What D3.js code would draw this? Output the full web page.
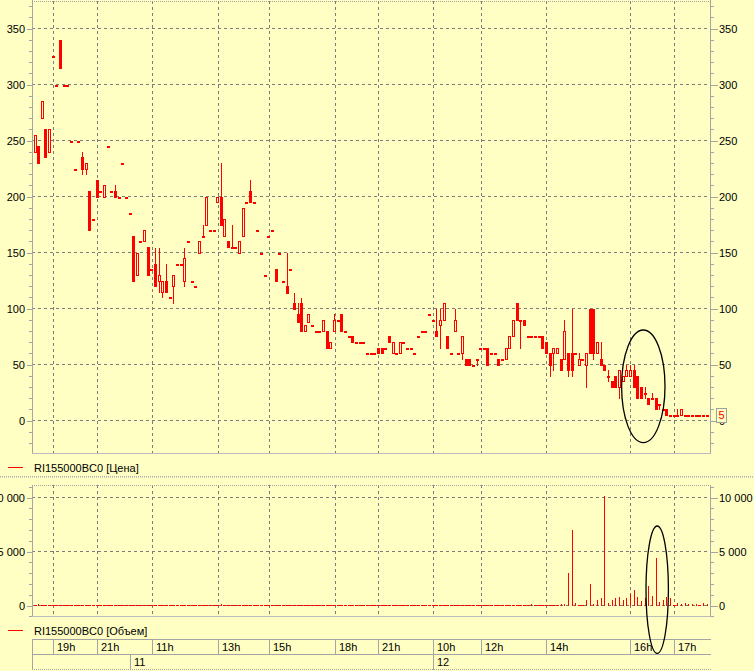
<!DOCTYPE html>
<html><head><meta charset="utf-8">
<script src="https://cdn.jsdelivr.net/npm/d3@7/dist/d3.min.js"></script>
<style>
html,body{margin:0;padding:0;background:#FFFFC4;overflow:hidden;}
svg{display:block;font-family:"Liberation Sans",Arial,sans-serif;font-size:11px;}
</style></head><body>
<svg id="c" width="754" height="671"></svg>
<script>
// ---- data (5-minute candles, RI155000BC0) ----
const opens = [240,245,270,260,240,325,300,340,300,300,250,225,250,235,225,205,180,215,205,200,245,205,205,200,230,200,185,165,130,160,160,155,135,140,125,115,125,110,120,140,140,125,160,125,120,150,165,175,170,170,195,200,165,160,155,155,150,165,195,205,195,170,150,130,165,170,135,150,125,120,135,105,95,105,80,88,85,80,80,80,80,65,80,90,95,80,75,75,70,70,70,60,60,60,65,65,65,75,60,60,60,70,65,65,60,75,80,80,95,90,80,85,90,75,60,80,60,60,55,55,50,55,65,65,65,60,60,55,55,55,65,75,105,90,90,75,75,75,75,75,70,60,60,60,55,55,60,60,60,50,55,50,100,100,60,55,50,40,35,40,30,35,40,40,45,40,30,25,20,20,20,15,10,10,5,5,5,5,5,5,5,5,5,5,5];
const highs = [255,245,285,260,260,325,300,340,300,300,250,225,250,240,230,205,180,215,205,210,245,205,210,200,230,200,185,165,150,160,170,155,135,154,154,125,140,110,130,140,140,154,160,125,120,160,175,200,170,170,200,230,180,160,175,155,160,190,195,215,195,170,150,130,165,170,135,150,125,150,135,114,105,109,85,95,85,80,80,90,80,70,95,90,95,80,75,75,70,70,70,60,60,60,65,65,65,75,70,60,70,70,65,65,60,75,80,80,95,90,100,100,105,75,60,100,60,75,55,55,50,55,65,65,65,60,60,55,55,65,75,90,105,90,90,75,75,75,75,75,70,60,65,65,55,90,60,100,60,60,55,60,100,100,70,70,50,45,35,40,45,40,50,50,50,40,30,30,20,25,20,15,10,10,5,5,10,10,5,5,5,5,5,5,5];
const lows = [240,230,270,235,240,325,300,315,300,300,250,225,250,220,220,170,180,200,205,200,245,205,200,200,230,200,185,125,130,160,160,130,135,120,115,110,115,110,105,140,140,120,160,125,120,150,165,175,170,170,195,175,165,155,155,155,150,165,195,195,195,170,150,130,165,170,125,150,125,114,135,100,88,80,80,88,85,80,80,80,65,65,80,90,80,80,75,70,70,70,70,60,60,60,60,60,65,70,60,60,60,70,65,65,60,75,80,80,95,90,75,65,90,65,60,80,60,55,50,50,50,50,65,65,50,60,60,50,55,55,65,75,90,65,85,75,75,75,75,65,60,40,45,60,45,55,40,40,60,50,55,30,60,55,60,50,45,35,30,30,20,35,40,40,30,20,20,20,15,20,10,10,10,5,5,5,5,5,5,5,5,5,5,5,5];
const closes = [255,230,285,235,260,325,300,315,300,300,250,225,250,225,230,170,180,200,205,210,245,205,200,200,230,200,185,125,150,160,170,130,135,120,130,125,115,110,130,140,140,145,160,125,120,160,165,200,170,170,200,175,180,155,155,155,160,190,195,195,195,170,150,130,165,170,125,150,125,114,135,100,88,80,85,95,85,80,80,90,65,70,90,90,80,80,75,70,70,70,70,60,60,60,60,60,65,70,70,60,70,70,65,65,60,75,80,80,95,90,75,90,105,65,60,90,60,75,50,50,50,55,65,65,50,60,60,50,55,65,75,90,90,90,85,75,75,75,75,65,60,50,65,65,45,80,45,45,60,55,55,60,60,60,70,50,45,40,30,30,45,40,45,45,30,20,20,25,15,20,10,15,10,5,5,5,5,10,5,5,5,5,5,5,5];
const volumes = [60,150,40,50,40,10,10,60,10,10,10,10,10,40,30,60,10,40,10,30,10,10,30,10,10,10,10,60,40,10,30,50,10,50,40,40,40,10,40,10,10,40,10,10,10,30,20,50,10,10,30,100,40,20,30,10,30,50,10,40,10,10,10,10,10,10,30,10,10,40,10,30,30,50,20,20,10,10,10,30,40,20,30,10,30,10,10,20,10,10,10,10,10,10,30,30,10,20,30,10,30,10,10,10,10,10,10,10,10,10,60,80,60,40,10,50,10,40,30,30,10,20,10,10,40,10,10,30,10,40,40,60,60,50,40,20,120,20,20,60,60,80,60,50,100,100,3000,7000,200,80,80,500,2000,150,500,650,10100,200,500,650,800,500,650,1100,1420,800,450,650,1800,850,4440,350,500,750,650,30,200,100,250,150,150,100,30,250,120];
const priceTicks = [0,50,100,150,200,250,300,350];
const volumeTicks = [0,5000,10000];
const hourLabels = ["19h","21h","11h","13h","15h","18h","21h","10h","12h","14h","16h","17h"];
const hourIndex = [5,17,32,50,64,82,94,109,122,140,163,175];
const dayLabels = ["11","12"];
const dayIndex = [26,109];
const lastPrice = 5;
const seriesName = "RI155000BC0";

// ---- drawing ----
const N = opens.length;
const RED = "#FF0000", BG = "#FFFFC4", GRID = "#7C7C7C", AX = "#A4A4A4";
const svg = d3.select("#c");
svg.append("rect").attr("width",754).attr("height",671).attr("fill",BG);

const L = 32, R = 710;
const x = d3.scaleBand().domain(d3.range(N)).range([33.2, 709]).padding(0);
const cx = i => x(i) + x.bandwidth()/2;
const gx = i => Math.round(cx(i)) + 0.5;
const y = d3.scaleLinear().domain([0,350]).range([420.5, 28.5]);
const yv = d3.scaleLinear().domain([0,10000]).range([605.5, 497.5]);

const P = {top:1, bottom:453.5};
const V = {top:485, bottom:616.5};

function line(g, x1,y1,x2,y2,stroke,dash,w){
  return g.append("line").attr("x1",x1).attr("y1",y1).attr("x2",x2).attr("y2",y2)
   .attr("stroke",stroke).attr("stroke-width",w||1).attr("stroke-dasharray",dash||null)
   .attr("shape-rendering","crispEdges");
}

// price panel grid
const gP = svg.append("g");
priceTicks.forEach(t => line(gP, L, y(t), R, y(t), GRID, "3,3"));
hourIndex.forEach(k => line(gP, gx(k), P.top, gx(k), P.bottom, GRID, "3,3"));
line(gP, L, 1.5, R, 1.5, AX, "1,1");
line(gP, L+0.5, 0, L+0.5, P.bottom, AX);
line(gP, R+0.5, 0, R+0.5, P.bottom, AX);
line(gP, L, P.bottom, R+1, P.bottom, "#BCBCBC", null, 1);

// price axes ticks (minor every 10)
const minorP = d3.range(-20, 371, 10);
minorP.forEach(t => {
  const major = t % 50 === 0;
  line(gP, major ? L-5 : L-3, Math.round(y(t))+0.5, L, Math.round(y(t))+0.5, AX);
  line(gP, R+1, Math.round(y(t))+0.5, major ? R+8 : R+4, Math.round(y(t))+0.5, AX);
});
const yAxisL = d3.axisLeft(y).tickValues(priceTicks).tickSize(0).tickPadding(0);
const yAxisR = d3.axisRight(y).tickValues(priceTicks).tickSize(0).tickPadding(0);
const axL = svg.append("g").attr("transform",`translate(${L-7},0)`).call(yAxisL);
const axR = svg.append("g").attr("transform",`translate(${R+9},0)`).call(yAxisR);
[axL, axR].forEach(a => { a.select(".domain").remove();
  a.selectAll("text").attr("font-size",11).attr("font-family","Liberation Sans, Arial, sans-serif").attr("fill","#000").attr("dy","0.35em"); });

// candles
const idx = d3.range(N).filter(i => opens[i] != null);
const gC = svg.append("g").attr("shape-rendering","crispEdges");
idx.forEach(i => {
  const o = opens[i], h = highs[i], l = lows[i], c = closes[i];
  const bx = Math.round(cx(i) - 1.5);
  if (h > Math.max(o,c) || l < Math.min(o,c)) {
    gC.append("rect").attr("x", bx+1).attr("width",1)
      .attr("y", Math.round(y(h))).attr("height", Math.max(1, Math.round(y(l)) - Math.round(y(h)) + 1))
      .attr("fill", RED);
  }
  if (c < o) {
    gC.append("rect").attr("x",bx).attr("width",3).attr("y",Math.round(y(o)))
      .attr("height", Math.round(y(c)) - Math.round(y(o)) + 1).attr("fill",RED);
  } else if (c > o) {
    gC.append("rect").attr("x",bx+0.5).attr("width",2).attr("y",Math.round(y(c))+0.5)
      .attr("height", Math.round(y(o)) - Math.round(y(c))).attr("fill",BG).attr("stroke",RED).attr("stroke-width",1);
  } else {
    gC.append("rect").attr("x",bx).attr("width",3).attr("y",Math.round(y(c))-0.5)
      .attr("height",2).attr("fill",RED);
  }
});

// last price marker
svg.append("rect").attr("x",716.5).attr("y",Math.round(y(lastPrice))-6.5).attr("width",10).attr("height",14)
  .attr("fill",BG).attr("stroke","#A0A0A0");
svg.append("text").attr("x",718.5).attr("y",y(lastPrice)).attr("dy","0.35em").attr("fill",RED).text(lastPrice);

// legend 1
line(svg, 8, 467.5, 23, 467.5, RED);
svg.append("text").attr("x",34).attr("y",471.5).text(seriesName + " [Цена]");
line(svg, 0, 476.5, 754, 476.5, "#B0B0B0", "1,1");
line(svg, 0, 477.5, 754, 477.5, "#D0D0C0", "1,1");

// volume panel
const gV = svg.append("g");
volumeTicks.forEach(t => line(gV, L, yv(t), R, yv(t), GRID, "3,3"));
hourIndex.forEach(k => line(gV, gx(k), V.top, gx(k), V.bottom, GRID, "3,3"));
line(gV, L, V.top+0.5, R, V.top+0.5, AX, "1,1");
line(gV, L+0.5, V.top, L+0.5, V.bottom, AX);
line(gV, R+0.5, V.top, R+0.5, V.bottom, AX);
line(gV, L, V.bottom, R+1, V.bottom, "#BCBCBC", null, 1);
d3.range(-1000, 11001, 1000).forEach(t => {
  const major = t % 5000 === 0;
  const yy = Math.round(yv(t))+0.5;
  line(gV, major ? L-5 : L-3, yy, L, yy, AX);
  line(gV, R+1, yy, major ? R+8 : R+4, yy, AX);
});
const fmtV = v => d3.format(",")(v).replace(/,/g, " ");
const vAxL = svg.append("g").attr("transform",`translate(${L-7},0)`).call(d3.axisLeft(yv).tickValues(volumeTicks).tickFormat(fmtV).tickSize(0).tickPadding(0));
const vAxR = svg.append("g").attr("transform",`translate(${R+9},0)`).call(d3.axisRight(yv).tickValues(volumeTicks).tickFormat(fmtV).tickSize(0).tickPadding(0));
[vAxL, vAxR].forEach(a => { a.select(".domain").remove();
  a.selectAll("text").attr("font-size",11).attr("font-family","Liberation Sans, Arial, sans-serif").attr("fill","#000").attr("dy","0.35em"); });

const gB = svg.append("g").attr("shape-rendering","crispEdges");
idx.forEach(i => {
  const v = volumes[i];
  const bx = Math.round(cx(i) - 1.5);
  const top = Math.round(yv(v));
  const hgt = 606 - top;
  if (hgt <= 1) {
    gB.append("rect").attr("x",bx).attr("width",3).attr("y",605).attr("height",1).attr("fill",RED);
  } else {
    gB.append("rect").attr("x",bx+1).attr("width",1).attr("y",top).attr("height",hgt).attr("fill",RED);
  }
});

// legend 2
line(svg, 8, 630.5, 23, 630.5, RED);
svg.append("text").attr("x",34).attr("y",634.5).text(seriesName + " [Объем]");

// time axis
const gT = svg.append("g");
line(gT, L, 639.5, R+1, 639.5, AX);
line(gT, L, 654.5, R+1, 654.5, AX);
line(gT, L, 669.5, R+1, 669.5, AX, "1,1");
line(gT, L+0.5, 639, L+0.5, 670, AX);
hourIndex.forEach((k,j) => {
  line(gT, gx(k), 639, gx(k), 654, AX);
  gT.append("text").attr("x", gx(k)+3.5).attr("y", 651).text(hourLabels[j]);
});
dayIndex.forEach((k,j) => {
  line(gT, gx(k), 654, gx(k), 670, AX);
  gT.append("text").attr("x", gx(k)+3.5).attr("y", 666).text(dayLabels[j]);
});

// annotation ellipses
svg.append("ellipse").attr("cx",643.3).attr("cy",386.3).attr("rx",21.7).attr("ry",56.3)
  .attr("fill","none").attr("stroke","#000").attr("stroke-width",1.3);
svg.append("ellipse").attr("cx",657.2).attr("cy",589.7).attr("rx",11.2).attr("ry",63.7)
  .attr("fill","none").attr("stroke","#000").attr("stroke-width",1.3);
</script>
</body></html>
